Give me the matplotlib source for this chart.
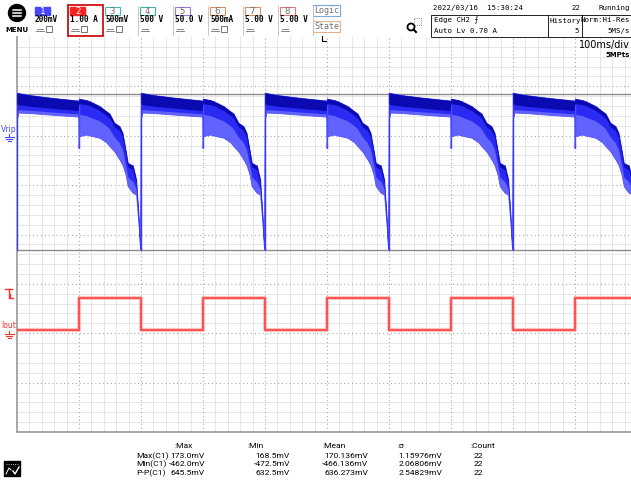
import numpy as np
import matplotlib
matplotlib.use("Agg")
import matplotlib.pyplot as plt
from matplotlib.patches import Rectangle, Circle

W, H = 631, 487

# scope settings
ch1_scale = 200.0     # mV/div
ch1_pos = 2.0         # div
ch2_scale = 1.0       # A/div
ch2_pos = -1.93       # div
time_div = 100.0      # ms/div

# ripple waveform for one load cycle (dt in ms, mV)
# high load phase (Iout high)
hi_dt = [0, 1, 12, 18, 34, 45, 50, 58, 66, 71, 76, 79.5, 84, 87.6, 93, 96.8, 99.2, 99.8]
hi_top = [140, 148, 143, 138, 118, 97, 88, 50, 37, 10, -60, -112, -118, -122, -179, -321, -442, -455]
hi_dark = [120, 128, 124, 120, 100, 80, 70, 34, 20, -8, -78, -128, -134, -140, -195, -335, -450, -460]
hi_mid = [60, 85, 80, 74, 58, 38, 26, -8, -30, -60, -120, -168, -180, -188, -218, -345, -452, -460]
hi_bot = [-50, -4, 3, -1, -10, -29, -44, -66, -98, -120, -160, -206, -222, -233, -240, -361, -459, -462]
# low load phase (Iout low)
lo_dt = [100.5, 103, 121, 153, 198.5, 199.6]
lo_top = [172, 171, 163, 153, 141, 140]
lo_dark = [128, 124, 118, 110, 100, 100]
lo_mid = [90, 104, 101, 95, 87, 86]
lo_bot = [64, 92, 90, 84, 76, 74]

cycle_starts = [-600, -400, -200, 0, 200, 400]   # ms, load steps up

# output current
iout_t = [-500, -400, -300, -200, -100, 0, 100, 200, 300, 400, 500]
iout_a = [0.0, 0.65, 0.0, 0.65, 0.0, 0.65, 0.0, 0.65, 0.0, 0.65, 0.65]

cursor_mv = [170, -462]

meas_cols = [":Max", ":Min", ":Mean", ":\u03c3", ":Count"]
meas_rows = ["Max(C1)", "Min(C1)", "P-P(C1)"]
meas_max = ["173.0mV", "-462.0mV", "645.5mV"]
meas_min = ["168.5mV", "-472.5mV", "632.5mV"]
meas_mean = ["170.136mV", "-466.136mV", "636.273mV"]
meas_sd = ["1.15976mV", "2.06806mV", "2.54829mV"]
meas_cnt = ["22", "22", "22"]

ch_labels = ["1", "2", "3", "4", "5", "6", "7", "8"]
ch_values = ["200mV", "1.00 A", "500mV", "500 V", "50.0 V", "500mA", "5.00 V", "5.00 V"]
ch_colors = ["#4646ff", "#ff2020", "#40b8b8", "#40b0a0", "#9878d8", "#d89060", "#d09070", "#e07878"]

fig = plt.figure(figsize=(W / 100, H / 100), dpi=100)
fig.patch.set_facecolor("white")

# ---------- scope grid ----------
gx0, gx1, gy0, gy1 = 17, 637, 37, 432
ax = fig.add_axes([gx0 / W, 1 - gy1 / H, (gx1 - gx0) / W, (gy1 - gy0) / H])
ax.set_xlim(-5 * time_div, 5 * time_div)
ax.set_ylim(-4, 4)
for v in np.arange(-500, 501, 20):
    if v % 100:
        ax.axvline(v, color="#e2e2e2", lw=0.6, zorder=0)
for v in np.arange(-4, 4.01, 0.2):
    if abs(v - round(v)) > 1e-6:
        ax.axhline(v, color="#e2e2e2", lw=0.6, zorder=0)
for v in np.arange(-400, 401, 100):
    ax.axvline(v, color="#a8a8a8", lw=0.8, ls=(0, (1, 2.5)), zorder=0.5)
for v in range(-3, 4):
    ax.axhline(v, color="#a8a8a8", lw=0.8, ls=(0, (1, 2.5)), zorder=0.5)
ax.set_xticks([])
ax.set_yticks([])
for s in ["top", "right"]:
    ax.spines[s].set_visible(False)
for s in ["left", "bottom"]:
    ax.spines[s].set_color("#9a9a9a")
    ax.spines[s].set_linewidth(1.2)

# cursor lines
for c in cursor_mv:
    ax.axhline(c / ch1_scale + ch1_pos, color="#8c8c8c", lw=1.0, zorder=1)

# ripple trace
t_all, top_all, dark_all, mid_all, bot_all = [], [], [], [], []
for t0 in cycle_starts:
    t_all += [t0 + d for d in hi_dt + lo_dt]
    top_all += hi_top + lo_top
    dark_all += hi_dark + lo_dark
    mid_all += hi_mid + lo_mid
    bot_all += hi_bot + lo_bot
t_all = np.array(t_all)
to_div = lambda a: np.array(a) / ch1_scale + ch1_pos
ax.fill_between(t_all, to_div(bot_all), to_div(top_all), color="#6262ff", lw=0.6, edgecolor="#5050ff", zorder=2)
ax.fill_between(t_all, to_div(mid_all), to_div(top_all), color="#2a2af2", lw=0, zorder=3)
ax.fill_between(t_all, to_div(dark_all), to_div(top_all), color="#0a0ab0", lw=0, zorder=4)
for t0 in cycle_starts:
    ax.plot([t0 + 100, t0 + 100], to_div([hi_bot[-1], lo_top[0]]), color="#3a3aff", lw=1.0, zorder=3)
    ax.plot([t0, t0], to_div([hi_bot[0], hi_top[1]]), color="#4a4aff", lw=1.0, zorder=3)

# current trace
ax.plot(iout_t, np.array(iout_a) / ch2_scale + ch2_pos, drawstyle="steps-post",
        color="#ff8080", lw=3.0, alpha=0.45, zorder=5)
ax.plot(iout_t, np.array(iout_a) / ch2_scale + ch2_pos, drawstyle="steps-post",
        color="#ff4848", lw=1.3, zorder=6)

# ---------- overlay in pixel units ----------
ov = fig.add_axes([0, 0, 1, 1], facecolor="none")
ov.set_xlim(0, W)
ov.set_ylim(H, 0)
ov.axis("off")

mono = ["DejaVu Sans Mono", "DejaVu Sans", "DejaVu Serif"]


def ground(x, y, color):
    ov.plot([x, x], [y, y + 3], color=color, lw=0.8)
    for i, hw in enumerate([4.5, 3, 1.5]):
        ov.plot([x - hw, x + hw], [y + 3 + 2 * i, y + 3 + 2 * i], color=color, lw=0.8)


# menu button
ov.add_patch(Circle((17, 13), 8.5, color="black"))
for dy in (-3, 0, 3):
    ov.plot([13, 21], [13 + dy, 13 + dy], color="white", lw=1.1)
ov.text(17, 30, "MENU", ha="center", va="center", fontsize=5, fontweight="bold")

# channel boxes
bx = 33
for i in range(8):
    x = bx + i * 35
    col = ch_colors[i]
    if i == 1:
        ov.add_patch(Rectangle((x, 5), 35, 31, fill=False, ec="#d01010", lw=1.3, zorder=5))
    else:
        ov.plot([x + 35, x + 35], [6, 35], color="#c8c8c8", lw=0.7)
    if i < 2:
        ov.add_patch(Rectangle((x + 2, 7), 15, 8, color=col))
        ov.text(x + 9.5, 11, ch_labels[i], ha="center", va="center", fontsize=6.5,
                color="white", family=mono)
    else:
        ov.add_patch(Rectangle((x + 2, 7), 15, 8, fill=False, ec=col, lw=0.8))
        ov.text(x + 9.5, 11, ch_labels[i], ha="center", va="center", fontsize=6.5,
                color="#707070", family=mono)
    ov.text(x + 2, 20, ch_values[i], ha="left", va="center", fontsize=5.6, family=mono,
            fontweight="bold")
    ov.plot([x + 3, x + 11], [31, 31], color="#707070", lw=0.6)
    ov.plot([x + 4, x + 10], [28.5, 28.5], color="#707070", lw=0.6)
    if i in (0, 1, 2, 5):
        ov.add_patch(Rectangle((x + 13, 26), 6, 6, fill=False, ec="#606060", lw=0.6))
ov.add_patch(Rectangle((313, 5), 27, 11, fill=False, ec="#7fa8d8", lw=0.8))
ov.text(326.5, 10.5, "Logic", ha="center", va="center", fontsize=6, color="#707070", family=mono)
ov.add_patch(Rectangle((313, 21), 27, 11, fill=False, ec="#e0b090", lw=0.8))
ov.text(326.5, 26.5, "State", ha="center", va="center", fontsize=6, color="#707070", family=mono)

# zoom icon
ov.add_patch(Circle((411, 27), 3.5, fill=False, ec="black", lw=1.3))
ov.plot([413.5, 416], [29.5, 32], color="black", lw=1.5)
ov.add_patch(Rectangle((414, 18), 7, 7, fill=False, ec="#606060", lw=0.6, ls=":"))

# status area
sf = dict(va="center", fontsize=5.3, family=mono)
ov.text(433, 8, "2022/03/16  15:30:24", ha="left", **sf)
ov.text(580, 8, "22", ha="right", **sf)
ov.text(630, 8, "Running", ha="right", **sf)
ov.add_patch(Rectangle((431, 15), 205, 22, fill=False, ec="black", lw=0.6))
ov.plot([548, 548], [15, 37], color="black", lw=0.6)
ov.plot([582, 582], [15, 37], color="black", lw=0.6)
ov.text(434, 20.5, "Edge CH2 \u2a0d", ha="left", **sf)
ov.text(434, 31, "Auto Lv 0.70 A", ha="left", **sf)
ov.text(549.5, 20.5, "History", ha="left", **sf)
ov.text(579, 31, "5", ha="right", **sf)
ov.text(630, 20.5, "Norm:Hi-Res", ha="right", **sf)
ov.text(630, 31, "5MS/s", ha="right", **sf)
ov.text(630, 45, "100ms/div", ha="right", va="center", fontsize=7)
ov.text(630, 55, "5MPts", ha="right", va="center", fontsize=5, fontweight="bold")

# mouse pointer
ov.plot([322, 322, 326], [36, 41, 41], color="black", lw=0.8)

# channel markers
ov.text(9, 129, "Vrip", ha="center", va="center", fontsize=5.5, color="#4a4aff")
ground(9, 134, "#4a4aff")
ov.plot([5, 12], [289, 289], color="#ff3030", lw=1.0)
ov.plot([8.5, 8.5], [289, 298], color="#ff3030", lw=1.0)
ov.plot([10, 10, 13], [294, 298, 298], color="#ff3030", lw=1.0)
ov.text(9, 326, "Iout", ha="center", va="center", fontsize=5.5, color="#ff3030")
ground(9, 331, "#ff3030")

# measurement table
tf = dict(fontsize=6.1, family=["Roboto", "DejaVu Sans"], va="center")
for txt, x in zip(meas_cols, [174, 247, 322, 397, 470]):
    ov.text(x, 446, txt, ha="left", **tf)
for r in range(3):
    y = 456 + 8.5 * r
    ov.text(136, y, meas_rows[r], ha="left", **tf)
    ov.text(205, y, meas_max[r], ha="right", **tf)
    ov.text(290, y, meas_min[r], ha="right", **tf)
    ov.text(368, y, meas_mean[r], ha="right", **tf)
    ov.text(442, y, meas_sd[r], ha="right", **tf)
    ov.text(474, y, meas_cnt[r], ha="left", **tf)

# bottom left icon
ov.add_patch(Rectangle((4, 461), 16, 15, color="black"))
ov.plot([6, 18], [464, 464], color="white", lw=0.6, ls=":")
ov.plot([6, 9, 11], [474, 468, 470], color="white", lw=0.7)
ov.plot([13, 15, 19], [471, 474, 467], color="white", lw=1.0)

fig.savefig("out.png", dpi=100)
